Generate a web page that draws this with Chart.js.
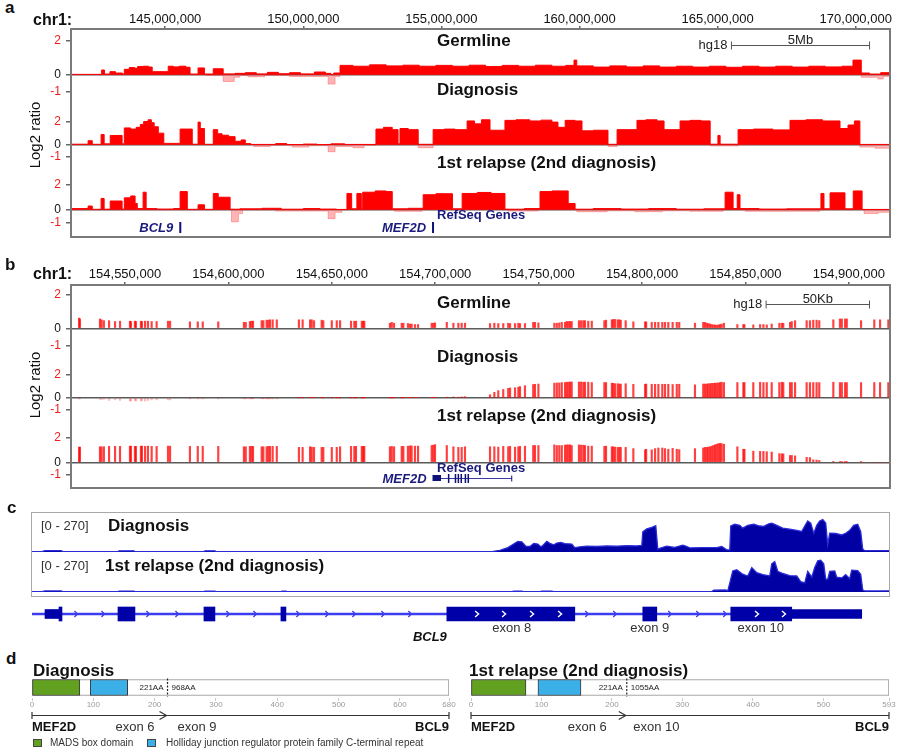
<!DOCTYPE html>
<html>
<head>
<meta charset="utf-8">
<title>MEF2D-BCL9 copy number and fusion</title>
<script src="https://cdn.jsdelivr.net/npm/chart.js@4.4.1/dist/chart.umd.min.js"></script>
<style>
  html, body { margin: 0; background: #fff; }
  #fig { position: relative; width: 900px; height: 750px; overflow: hidden; font-family: "Liberation Sans", Arial, Helvetica, sans-serif; color: #111; }
  .cv { position: absolute; }
  .t { position: absolute; white-space: nowrap; line-height: 1; }
  .box { position: absolute; box-sizing: border-box; pointer-events: none; }
  .sw { position: absolute; width: 9px; height: 8px; box-sizing: border-box; border: 1px solid #444; }
</style>
</head>
<body>
<div id="fig"></div>
<script>
const FONT = '"Liberation Sans", Arial, Helvetica, sans-serif';
Chart.defaults.font.family = FONT;
Chart.defaults.color = '#111';

const RED = '#ff0000';
const PALE = 'rgba(255, 60, 60, 0.38)';
const PROBE = 'rgba(255, 0, 0, 0.75)';
const NAVY = '#1a1a7c';
const COVER = '#0000a3';

// ── Panel a: chr1 overview, log2 segments [start Mb, level] ─────────────────
const aRange = [141.59, 171.24];
const aTicks = [145, 150, 155, 160, 165, 170];
const log2Ticks = [-1, 0, 2];

const aGermline = [[141.59,0.02],[142.70,0.28],[142.80,0.04],[143.00,0.18],[143.20,0.10],[143.45,0.04],[143.52,0.32],[143.70,0.42],[143.90,0.38],[144.00,0.48],[144.20,0.50],[144.40,0.45],[144.53,0.18],[145.11,0.50],[145.30,0.46],[145.50,0.50],[145.75,0.44],[145.90,0.04],[146.19,0.40],[146.42,0.04],[146.74,0.35],[147.10,0.05],[147.53,0.08],[147.90,0.12],[148.30,0.05],[148.70,0.14],[149.10,0.06],[149.50,0.12],[149.90,0.05],[150.40,0.16],[150.80,0.08],[151.00,0.00],[151.10,0.10],[151.33,0.55],[151.80,0.50],[152.40,0.58],[153.00,0.52],[153.60,0.56],[154.20,0.50],[154.80,0.55],[155.40,0.50],[156.00,0.56],[156.60,0.48],[157.20,0.55],[157.80,0.50],[158.40,0.56],[159.00,0.50],[159.50,0.55],[159.80,0.86],[159.90,0.52],[160.50,0.45],[161.10,0.52],[161.70,0.46],[162.30,0.52],[162.90,0.45],[163.50,0.50],[164.10,0.45],[164.70,0.50],[165.30,0.44],[165.90,0.50],[166.50,0.45],[167.10,0.50],[167.70,0.45],[168.30,0.50],[168.90,0.46],[169.50,0.50],[169.90,0.86],[170.20,0.10],[170.50,0.04],[170.90,0.12],[171.24,0.12]];
const aGermlineLow = [[141.59,0],[146.50,-0.05],[147.10,-0.40],[147.50,-0.15],[147.70,-0.05],[148.00,-0.12],[148.60,-0.05],[149.50,-0.10],[150.90,-0.55],[151.15,-0.10],[151.33,0],[170.20,-0.15],[170.80,-0.25],[171.00,-0.10],[171.24,-0.10]];

const aDiagnosis = [[141.59,0.05],[142.21,0.35],[142.36,0.04],[142.68,0.88],[142.79,0.08],[143.01,0.80],[143.44,0.08],[143.52,1.45],[143.75,1.35],[143.95,1.50],[144.10,1.75],[144.22,2.00],[144.38,2.15],[144.50,1.90],[144.60,1.55],[144.75,1.00],[144.95,0.12],[145.54,1.35],[145.98,0.05],[146.19,1.95],[146.27,1.40],[146.42,0.04],[146.74,1.30],[146.90,0.95],[147.06,0.82],[147.30,0.70],[147.53,0.30],[147.75,0.42],[147.90,0.10],[148.10,0.03],[149.00,0.10],[149.40,0.02],[150.00,0.06],[150.50,0.02],[151.00,0.08],[151.50,0.03],[152.63,1.35],[152.90,1.50],[153.22,1.30],[153.43,0.08],[153.50,1.40],[153.80,1.30],[154.16,0.04],[154.70,1.30],[155.10,1.35],[155.50,1.30],[155.93,2.05],[156.20,1.80],[156.45,2.15],[156.76,1.25],[157.30,2.10],[157.70,2.15],[158.20,2.05],[158.60,2.12],[159.00,1.95],[159.22,1.50],[159.48,2.10],[159.84,2.05],[160.09,1.20],[160.50,1.25],[161.03,0.04],[161.36,1.30],[162.08,2.10],[162.40,2.15],[162.81,2.05],[163.06,1.30],[163.64,2.05],[164.00,2.10],[164.40,2.05],[164.73,0.05],[165.01,0.80],[165.09,0.05],[165.74,1.30],[166.30,1.35],[167.00,1.28],[167.62,2.10],[168.20,2.15],[168.80,2.05],[169.43,1.40],[169.72,1.70],[169.95,2.05],[170.15,0.03],[171.24,0.03]];
const aDiagnosisLow = [[141.59,0],[148.20,-0.15],[148.80,-0.05],[149.60,-0.20],[150.20,-0.08],[150.90,-0.60],[151.15,-0.15],[151.80,-0.25],[152.20,-0.05],[152.63,0],[154.16,-0.25],[154.70,0],[161.03,-0.15],[161.36,0],[164.73,-0.10],[165.74,0],[170.15,-0.20],[170.70,-0.30],[171.24,-0.30]];

const aRelapse = [[141.59,0.10],[142.21,0.30],[142.36,0.04],[142.68,0.90],[142.79,0.05],[143.01,0.70],[143.44,0.05],[143.52,0.95],[143.75,1.10],[143.91,0.50],[143.99,0.10],[144.20,1.40],[144.31,0.10],[144.70,0.06],[145.30,0.10],[145.54,1.45],[145.80,0.04],[146.19,0.40],[146.42,0.04],[146.74,1.30],[146.92,1.00],[147.35,0.05],[147.70,0.08],[148.50,0.12],[149.20,0.05],[150.00,0.10],[150.60,0.06],[151.20,0.03],[151.58,1.30],[151.75,0.08],[151.94,1.30],[152.10,0.08],[152.15,1.40],[152.60,1.50],[153.00,1.45],[153.22,0.08],[153.80,0.12],[154.34,1.20],[154.80,1.28],[155.40,0.08],[155.75,1.30],[156.30,1.38],[156.80,1.30],[157.30,0.05],[158.00,0.10],[158.57,1.45],[159.00,1.50],[159.59,0.50],[159.84,0.05],[160.50,0.10],[161.50,0.06],[162.50,0.10],[163.50,0.05],[164.50,0.08],[165.27,1.40],[165.56,0.10],[165.71,1.20],[165.81,0.10],[166.50,0.06],[167.50,0.08],[168.74,1.30],[168.85,0.08],[169.07,1.35],[169.61,0.08],[169.91,1.50],[170.23,0.03],[171.24,0.03]];
const aRelapseLow = [[141.59,0],[147.40,-0.95],[147.65,-0.30],[147.80,0],[149.00,-0.10],[150.90,-0.70],[151.15,-0.20],[151.40,0],[153.30,-0.12],[154.30,0],[157.40,-0.10],[158.50,0],[159.90,-0.15],[161.00,-0.08],[162.00,-0.15],[163.00,-0.08],[164.00,-0.12],[165.20,0],[166.00,-0.12],[168.70,0],[170.30,-0.30],[170.80,-0.20],[171.24,-0.20]];

const aGenes = [['BCL9', 145.51, 145.55], ['MEF2D', 154.66, 154.69]];
const aScaleBar = [165.5, 5, '5Mb'];

// ── Panel b: MEF2D zoom, probes in kb ───────────────────────────────────────
const bRange = [154523.9, 154919.9];
const bTicks = [154550, 154600, 154650, 154700, 154750, 154800, 154850, 154900];
const bProbes = [
  154527.8, 154528.2, 154537.9, 154538.7, 154539.8, 154542.3, 154545.2, 154547.6, 154552.4, 154552.9, 154554.8, 154555.3, 154557.7, 154558.2, 154559.7, 154561.1, 154562.9, 154565.3, 154570.8, 154571.8,
  154581.4, 154585.2, 154587.6, 154595.1, 154607.5, 154608.4, 154610.4, 154611.2, 154611.9, 154616.1, 154616.9, 154618.5, 154619.3, 154620.1, 154621.4, 154623.4,
  154634.1, 154635.9, 154639.5, 154640.3, 154641.4, 154645.1, 154645.9, 154650.0, 154652.4, 154654.0, 154659.3, 154660.9, 154661.7, 154664.5, 154665.2, 154665.7,
  154678.1, 154679.0, 154680.1, 154683.8, 154684.6, 154686.8, 154687.8, 154688.6, 154690.2, 154691.7, 154698.3, 154699.1, 154699.9, 154705.6, 154708.8, 154711.2, 154712.8, 154714.4,
  154726.5, 154728.6, 154730.5, 154732.9, 154735.3, 154736.2, 154738.6, 154740.2, 154741.0, 154743.4, 154747.4, 154748.2, 154749.9,
  154757.6, 154758.8, 154760.0, 154761.2, 154762.8, 154763.6, 154764.4, 154765.2, 154766.0, 154769.5, 154770.5, 154771.6, 154772.4, 154774.0, 154775.7,
  154781.8, 154782.6, 154785.4, 154786.1, 154786.9, 154788.2, 154789.0, 154789.7, 154792.1, 154795.8,
  154801.5, 154802.0, 154804.7, 154806.3, 154807.9, 154809.8, 154811.1, 154812.7, 154814.8, 154816.8, 154818.0,
  154825.6, 154829.6, 154830.4, 154831.3, 154832.0, 154832.9, 154833.7, 154834.5, 154835.3, 154836.1, 154836.9, 154837.7, 154838.5, 154839.6,
  154846.1, 154849.0, 154849.5, 154853.8, 154857.1, 154858.7, 154860.3, 154862.7, 154866.4, 154867.6, 154868.3, 154871.6, 154872.4, 154874.0,
  154879.6, 154881.2, 154882.8, 154884.4, 154885.7, 154892.5, 154895.7, 154896.6, 154898.2, 154899.0, 154905.9, 154912.3, 154915.1, 154919.1
];
const bGermline = [
  0.60, 0.55, 0.55, 0.50, 0.45, 0.45, 0.40, 0.42, 0.42, 0.40, 0.42, 0.40, 0.42, 0.40, 0.42, 0.42, 0.40, 0.40, 0.42, 0.42,
  0.38, 0.38, 0.38, 0.38, 0.35, 0.35, 0.40, 0.42, 0.42, 0.45, 0.45, 0.48, 0.48, 0.50, 0.50, 0.50,
  0.50, 0.50, 0.50, 0.50, 0.45, 0.48, 0.45, 0.45, 0.45, 0.45, 0.42, 0.42, 0.42, 0.42, 0.42, 0.42,
  0.30, 0.35, 0.30, 0.30, 0.30, 0.28, 0.25, 0.25, 0.22, 0.22, 0.30, 0.30, 0.32, 0.35, 0.30, 0.30, 0.30, 0.30,
  0.28, 0.30, 0.28, 0.28, 0.30, 0.28, 0.28, 0.30, 0.28, 0.28, 0.35, 0.35, 0.32,
  0.30, 0.30, 0.32, 0.35, 0.35, 0.40, 0.40, 0.40, 0.40, 0.45, 0.45, 0.45, 0.45, 0.42, 0.42,
  0.45, 0.48, 0.50, 0.52, 0.52, 0.50, 0.50, 0.48, 0.45, 0.38,
  0.38, 0.38, 0.35, 0.35, 0.35, 0.35, 0.35, 0.35, 0.35, 0.35, 0.35,
  0.30, 0.35, 0.35, 0.30, 0.28, 0.25, 0.22, 0.20, 0.20, 0.18, 0.20, 0.22, 0.25, 0.30,
  0.22, 0.22, 0.22, 0.20, 0.22, 0.22, 0.20, 0.25, 0.30, 0.30, 0.30, 0.35, 0.40, 0.45,
  0.45, 0.45, 0.48, 0.48, 0.45, 0.50, 0.55, 0.55, 0.55, 0.55, 0.45, 0.50, 0.50, 0.50
];
const bDiagnosis = [
  -0.05, -0.05, -0.10, -0.12, -0.10, -0.20, -0.15, -0.20, -0.25, -0.25, -0.20, -0.25, -0.25, -0.20, -0.25, -0.20, -0.15, -0.15, -0.15, -0.15,
  -0.02, -0.03, -0.02, -0.03, -0.02, -0.02, -0.03, -0.02, -0.02, -0.03, -0.02, -0.02, -0.02, -0.02, -0.02, -0.02,
  0.02, 0.02, 0.04, 0.04, 0.04, 0.03, 0.02, 0.02, 0.02, 0.02, 0.02, 0.02, 0.02, 0.02, 0.02, 0.02,
  0.02, 0.02, 0.02, 0.02, 0.02, 0.05, 0.05, 0.05, 0.05, 0.05, 0.05, 0.05, 0.05, 0.08, 0.10, 0.08, 0.10, 0.12,
  0.29, 0.50, 0.65, 0.75, 0.85, 0.88, 0.90, 0.95, 1.00, 1.08, 1.18, 1.20, 1.22,
  1.30, 1.32, 1.32, 1.35, 1.35, 1.38, 1.38, 1.40, 1.40, 1.40, 1.40, 1.38, 1.38, 1.38, 1.35,
  1.35, 1.35, 1.30, 1.28, 1.25, 1.25, 1.22, 1.22, 1.25, 1.20,
  1.20, 1.22, 1.20, 1.20, 1.20, 1.20, 1.20, 1.20, 1.18, 1.20, 1.20,
  1.15, 1.22, 1.22, 1.22, 1.25, 1.25, 1.28, 1.28, 1.30, 1.30, 1.32, 1.35, 1.38, 1.35,
  1.35, 1.35, 1.35, 1.35, 1.38, 1.35, 1.35, 1.35, 1.35, 1.38, 1.35, 1.35, 1.35, 1.35,
  1.35, 1.35, 1.35, 1.35, 1.35, 1.38, 1.35, 1.35, 1.35, 1.35, 1.35, 1.35, 1.35, 1.35
];
const bRelapse = [
  1.22, 1.22, 1.25, 1.25, 1.25, 1.28, 1.28, 1.28, 1.30, 1.30, 1.28, 1.28, 1.30, 1.30, 1.28, 1.30, 1.28, 1.28, 1.30, 1.30,
  1.28, 1.28, 1.28, 1.28, 1.25, 1.25, 1.28, 1.28, 1.28, 1.25, 1.25, 1.25, 1.28, 1.28, 1.28, 1.28,
  1.20, 1.20, 1.25, 1.22, 1.20, 1.20, 1.20, 1.20, 1.20, 1.25, 1.28, 1.28, 1.28, 1.28, 1.28, 1.28,
  1.25, 1.28, 1.25, 1.28, 1.28, 1.30, 1.32, 1.32, 1.30, 1.30, 1.35, 1.38, 1.42, 1.35, 1.25, 1.20, 1.20, 1.25,
  1.25, 1.25, 1.22, 1.28, 1.25, 1.28, 1.22, 1.25, 1.28, 1.30, 1.35, 1.35, 1.35,
  1.40, 1.35, 1.35, 1.35, 1.38, 1.40, 1.40, 1.40, 1.35, 1.40, 1.38, 1.38, 1.35, 1.30, 1.30,
  1.28, 1.30, 1.25, 1.25, 1.22, 1.20, 1.20, 1.20, 1.20, 1.10,
  1.00, 1.05, 1.00, 1.10, 1.15, 1.15, 1.10, 1.05, 1.12, 1.05, 1.02,
  1.10, 1.15, 1.20, 1.20, 1.22, 1.25, 1.30, 1.35, 1.40, 1.45, 1.50, 1.52, 1.50, 1.45,
  1.25, 1.05, 1.05, 0.90, 0.88, 0.88, 0.85, 0.82, 0.70, 0.68, 0.68, 0.55, 0.55, 0.52,
  0.40, 0.38, 0.20, 0.18, 0.15, 0.08, 0.03, 0.02, 0.02, 0.02, 0.01, 0.00, 0.00, 0.00
];
const bMef2dUtr = [154698.7, 154702.8];
const bMef2dSpan = [154702.8, 154737.0];
const bMef2dExons = [154706.5, 154709.8, 154711.2, 154712.6, 154714.6, 154716.0];
const bScaleBar = [154860, 50, '50Kb'];

// ── Panel c: BCL9 RNA-seq coverage [kb, reads] and gene model ───────────────
const cRange = [0, 85.73];
const cDiagnosis = [[0,3],[1.0,3],[1.3,10],[2.9,10],[3.1,3],[8.6,3],[8.7,8],[10.2,8],[10.3,3],[17.2,3],[17.3,8],[18.3,8],[18.4,3],[46.0,3],[46.8,12],[47.6,30],[48.1,52],[48.6,74],[49.0,70],[49.4,40],[49.8,38],[50.2,60],[50.6,55],[50.9,36],[51.1,45],[51.5,74],[51.8,60],[52.2,50],[52.5,62],[52.9,67],[53.3,58],[54.0,55],[54.3,30],[54.8,36],[55.5,40],[56.5,38],[57.5,42],[58.5,40],[59.5,44],[60.5,42],[61.0,45],[61.1,140],[61.5,160],[62.0,170],[62.4,182],[62.6,20],[63.0,30],[63.5,40],[64.3,32],[65.1,48],[65.4,40],[65.8,28],[67.0,30],[68.5,30],[69.0,38],[69.5,15],[69.8,14],[69.9,180],[70.3,192],[70.8,185],[71.1,165],[71.6,185],[72.2,192],[72.8,180],[73.2,178],[73.7,195],[74.0,200],[74.4,188],[75.1,165],[75.8,158],[76.5,150],[77.0,142],[77.3,180],[77.6,215],[77.9,200],[78.2,130],[78.5,185],[78.8,215],[79.1,224],[79.4,200],[79.6,50],[79.8,131],[80.4,128],[81.0,118],[81.4,130],[81.8,150],[82.2,185],[82.6,192],[82.9,140],[83.1,20],[83.3,9],[85.0,9],[85.73,10]];
const cRelapse = [[0,3],[1.0,3],[1.3,7],[2.9,7],[3.1,3],[8.6,3],[8.7,6],[10.2,6],[10.3,3],[17.2,3],[17.3,5],[18.3,5],[18.4,3],[24.9,3],[25.0,5],[25.4,5],[25.5,3],[48.0,3],[48.2,5],[49.0,5],[49.2,3],[50.8,3],[51.0,5],[52.0,5],[52.2,3],[68.0,3],[68.2,12],[69.4,14],[69.6,8],[69.8,60],[70.1,142],[70.5,150],[71.1,120],[71.6,108],[72.0,165],[72.5,130],[73.1,118],[73.8,108],[74.0,190],[74.3,205],[74.6,140],[75.1,125],[75.8,110],[76.5,108],[76.9,70],[77.3,62],[77.6,140],[78.0,100],[78.3,165],[78.6,210],[78.9,215],[79.2,190],[79.4,88],[79.6,85],[79.8,140],[80.3,142],[80.5,100],[81.0,95],[81.4,118],[81.8,90],[82.0,148],[82.6,145],[82.9,120],[83.1,15],[83.3,7],[85.0,7],[85.73,8]];
const cExons = [[2.7,3.0],[8.6,10.3],[17.2,18.3],[24.9,25.4],[41.5,54.3],[61.1,62.5],[69.9,76.0]];
const cUtr = [[1.3,2.7],[76.0,83.0]];
const cIntron = [0, 83.0];
const cIntronArrows = [4.4, 7.1, 11.6, 14.5, 19.6, 22.3, 26.6, 29.5, 32.2, 35.1, 37.8, 55.5, 58.3, 63.8, 66.6, 69.3];
const cExonArrows = [44.5, 47.2, 50.0, 52.8, 72.5, 75.2];
const cExonLabels = [['exon 8', 48.0], ['exon 9', 61.8], ['exon 10', 72.9]];

// ── Panel d: fusion proteins (amino acids) ──────────────────────────────────
const dTitles = ['Diagnosis', '1st relapse (2nd diagnosis)'];
const dLength = [680, 593];
const dAxisTicks = [[0, 100, 200, 300, 400, 500, 600, 680], [0, 100, 200, 300, 400, 500, 593]];
const dMads = [0, 78];
const dHolliday = [95, 156];
const dBreakAA = 221;
const dTotalAA = ['968AA', '1055AA'];
const dPartnerExon = ['exon 9', 'exon 10'];
const dExonLabelAA = [[168, 269], [165, 263]];

// ── Helpers ─────────────────────────────────────────────────────────────────
const fig = document.getElementById('fig');
const YW = 40;

function withCommas(n) {
  return String(Math.round(n)).replace(/\B(?=(\d{3})+(?!\d))/g, ',');
}

function addChart(area, cfg, pad, axes) {
  const ax = Object.assign({left: 0, top: 0, bottom: 0}, axes);
  const p = Object.assign({left: 0, right: 10, top: 14, bottom: 14}, pad);
  const L = area.l - ax.left - p.left, T = area.t - ax.top - p.top;
  const div = document.createElement('div');
  div.className = 'cv';
  div.style.left = L + 'px';
  div.style.top = T + 'px';
  div.style.width = (area.r + p.right - L) + 'px';
  div.style.height = (area.b + ax.bottom + p.bottom - T) + 'px';
  const canvas = document.createElement('canvas');
  div.appendChild(canvas);
  fig.appendChild(div);
  cfg.options = Object.assign({
    responsive: true, maintainAspectRatio: false, animation: false, events: [],
    layout: {padding: p}
  }, cfg.options);
  cfg.options.plugins = Object.assign({legend: {display: false}, tooltip: {enabled: false}}, cfg.options.plugins);
  return new Chart(canvas, cfg);
}

function label(text, x, cy, css, align) {
  const d = document.createElement('div');
  d.className = 't';
  d.textContent = text;
  d.style.cssText = css || '';
  d.style.left = x + 'px';
  d.style.top = cy + 'px';
  d.style.transform = align === 'right' ? 'translate(-100%,-50%)' : align === 'center' ? 'translate(-50%,-50%)' : 'translateY(-50%)';
  fig.appendChild(d);
  return d;
}

function frame(l, t, r, b, css) {
  const d = document.createElement('div');
  d.className = 'box';
  d.style.cssText = css;
  d.style.left = (l - 1) + 'px';
  d.style.top = (t - 1) + 'px';
  d.style.width = (r - l + 2) + 'px';
  d.style.height = (b - t + 2) + 'px';
  fig.appendChild(d);
}

function log2Y(min, max) {
  return {
    min, max,
    afterBuildTicks: s => { s.ticks = log2Ticks.map(v => ({value: v})); },
    afterFit: s => { s.width = YW; },
    ticks: {font: {size: 12}, padding: 5, color: c => c.tick.value === 0 ? '#111' : '#ee1c1c'},
    grid: {color: c => (c.tick && c.tick.value === 0) ? '#5a5a5a' : 'rgba(0,0,0,0)', tickColor: '#666', tickLength: 5, lineWidth: 1.5},
    border: {display: false}
  };
}

function genomeX(range, ticks, fmt, show, pad) {
  return {
    type: 'linear', position: 'top', min: range[0], max: range[1], offset: false, display: show,
    afterBuildTicks: s => { s.ticks = ticks.map(v => ({value: v})); },
    afterFit: s => { s.height = 20; },
    ticks: {callback: fmt, font: {size: 13, lineHeight: 1}, color: '#111', padding: pad, maxRotation: 0, autoSkip: false},
    grid: {offset: false, drawOnChartArea: false, tickLength: 3, tickColor: '#666', lineWidth: 1.5},
    border: {display: false}
  };
}

function stepSet(segs, color) {
  return {data: segs.map(s => ({x: s[0], y: s[1]})), stepped: true, fill: 'origin',
    backgroundColor: color, borderColor: color, borderWidth: 1, pointRadius: 0};
}

function probeSet(vals) {
  return {data: bProbes.map((x, i) => ({x, y: vals[i]})), barThickness: 1.5,
    backgroundColor: c => (c.raw && c.raw.y < 0) ? 'rgba(255,0,0,0.28)' : PROBE};
}

function scaleBarPlugin(bar, dy) {
  return {id: 'scalebar', afterDraw(chart) {
    const {ctx, chartArea: a, scales: {x}} = chart;
    const x0 = x.getPixelForValue(bar[0]), x1 = x.getPixelForValue(bar[0] + bar[1]);
    const y = Math.round(a.top + dy) + 0.5;
    ctx.save();
    ctx.strokeStyle = '#555'; ctx.lineWidth = 1;
    ctx.beginPath();
    ctx.moveTo(x0, y); ctx.lineTo(x1, y);
    ctx.moveTo(x0, y - 4); ctx.lineTo(x0, y + 4);
    ctx.moveTo(x1, y - 4); ctx.lineTo(x1, y + 4);
    ctx.stroke();
    ctx.fillStyle = '#222'; ctx.font = '13px ' + FONT;
    ctx.textAlign = 'right'; ctx.textBaseline = 'middle';
    ctx.fillText('hg18', x0 - 4, y);
    ctx.textAlign = 'center'; ctx.textBaseline = 'alphabetic';
    ctx.fillText(bar[2], (x0 + x1) / 2, y - 1.5);
    ctx.restore();
  }};
}

function geneMarkPlugin(genes) {
  return {id: 'refseq', afterDatasetsDraw(chart) {
    const {ctx, chartArea: a, scales: {x}} = chart;
    const y = a.bottom - 9.5;
    ctx.save();
    ctx.font = 'italic bold 13px ' + FONT;
    ctx.textAlign = 'right'; ctx.textBaseline = 'middle';
    genes.forEach(([name, s, e]) => {
      const x0 = x.getPixelForValue(s), w = Math.max(2, x.getPixelForValue(e) - x0);
      ctx.fillStyle = '#10107a';
      ctx.fillRect(x0, y - 5.5, w, 11);
      ctx.fillStyle = NAVY;
      ctx.fillText(name, x0 - 6, y + 0.5);
    });
    ctx.restore();
  }};
}

function mef2dPlugin() {
  return {id: 'mef2d', afterDatasetsDraw(chart) {
    const {ctx, chartArea: a, scales: {x}} = chart;
    const px = v => x.getPixelForValue(v);
    const y = a.bottom - 10;
    ctx.save();
    ctx.fillStyle = '#10107a'; ctx.strokeStyle = '#3a3aa0'; ctx.lineWidth = 1;
    ctx.fillRect(px(bMef2dUtr[0]), y - 3, px(bMef2dUtr[1]) - px(bMef2dUtr[0]), 6);
    ctx.beginPath(); ctx.moveTo(px(bMef2dSpan[0]), y + 0.5); ctx.lineTo(px(bMef2dSpan[1]), y + 0.5); ctx.stroke();
    bMef2dExons.forEach(v => ctx.fillRect(px(v) - 0.75, y - 4, 1.5, 9));
    ctx.fillRect(px(bMef2dSpan[1]) - 0.5, y - 2.5, 1, 6);
    ctx.font = 'italic bold 13px ' + FONT; ctx.textAlign = 'right'; ctx.textBaseline = 'middle';
    ctx.fillStyle = NAVY;
    ctx.fillText('MEF2D', px(bMef2dUtr[0]) - 6, y + 1);
    ctx.restore();
  }};
}

function chevron(ctx, x, y, w, h) {
  ctx.beginPath();
  ctx.moveTo(x - w / 2, y - h / 2); ctx.lineTo(x + w / 2, y); ctx.lineTo(x - w / 2, y + h / 2);
  ctx.stroke();
}

function bcl9Plugin() {
  return {id: 'bcl9', afterDatasetsDraw(chart) {
    const {ctx, chartArea: a, scales: {x}} = chart;
    const px = v => x.getPixelForValue(v);
    const y = (a.top + a.bottom) / 2;
    ctx.save();
    ctx.lineWidth = 1.3; ctx.strokeStyle = '#3c3cf0';
    cIntronArrows.forEach(v => chevron(ctx, px(v), y, 3, 6));
    ctx.strokeStyle = '#fff'; ctx.lineWidth = 1.4;
    cExonArrows.forEach(v => chevron(ctx, px(v), y, 3.5, 6));
    ctx.font = '13px ' + FONT; ctx.fillStyle = '#333'; ctx.textAlign = 'center'; ctx.textBaseline = 'middle';
    cExonLabels.forEach(([t, v]) => ctx.fillText(t, px(v), a.bottom));
    ctx.font = 'italic bold 13px ' + FONT; ctx.fillStyle = '#111'; ctx.textAlign = 'right';
    ctx.fillText('BCL9', px(cExons[4][0]), a.bottom + 9);
    ctx.restore();
  }};
}

function proteinPlugin(k) {
  return {id: 'fusion', afterDatasetsDraw(chart) {
    const {ctx, chartArea: a, scales: {x}} = chart;
    const px = v => x.getPixelForValue(v);
    const xb = px(dBreakAA);
    const ym = (a.top + a.bottom) / 2;
    ctx.save();
    ctx.strokeStyle = '#222'; ctx.lineWidth = 1.2; ctx.setLineDash([2, 1.5]);
    ctx.beginPath(); ctx.moveTo(xb, ym - 9); ctx.lineTo(xb, ym + 9); ctx.stroke();
    ctx.setLineDash([]);
    ctx.fillStyle = '#222'; ctx.font = '8px ' + FONT; ctx.textBaseline = 'middle';
    ctx.textAlign = 'right'; ctx.fillText(dBreakAA + 'AA', xb - 4, ym);
    ctx.textAlign = 'left'; ctx.fillText(dTotalAA[k], xb + 4, ym);
    const ya = a.bottom + 17.5, x0 = px(0), x1 = px(dLength[k]);
    ctx.strokeStyle = '#333'; ctx.lineWidth = 1.2;
    ctx.beginPath();
    ctx.moveTo(x0, ya); ctx.lineTo(x1, ya);
    ctx.moveTo(x0, ya - 3.5); ctx.lineTo(x0, ya + 3.5);
    ctx.moveTo(x1, ya - 3.5); ctx.lineTo(x1, ya + 3.5);
    ctx.moveTo(xb - 8, ya - 4); ctx.lineTo(xb - 1, ya); ctx.lineTo(xb - 8, ya + 4);
    ctx.stroke();
    const yt = a.bottom + 29;
    ctx.fillStyle = '#111'; ctx.font = 'bold 13px ' + FONT;
    ctx.textAlign = 'left'; ctx.fillText('MEF2D', x0, yt);
    ctx.textAlign = 'right'; ctx.fillText('BCL9', x1, yt);
    ctx.font = '13px ' + FONT; ctx.textAlign = 'center'; ctx.fillStyle = '#333';
    ctx.fillText('exon 6', px(dExonLabelAA[k][0]), yt);
    ctx.fillText(dPartnerExon[k], px(dExonLabelAA[k][1]), yt);
    ctx.restore();
  }};
}

// ── Panel a ─────────────────────────────────────────────────────────────────
const aTracks = [
  {t: 29, b: 97, y: [-1.31, 2.69], hi: aGermline, lo: aGermlineLow},
  {t: 97, b: 160, y: [-1.31, 2.39], hi: aDiagnosis, lo: aDiagnosisLow},
  {t: 160, b: 237, y: [-2.16, 2.37], hi: aRelapse, lo: aRelapseLow}
];
aTracks.forEach((tr, i) => {
  const plugins = [];
  if (i === 0) plugins.push(scaleBarPlugin(aScaleBar, 16));
  if (i === 2) plugins.push(geneMarkPlugin(aGenes));
  addChart({l: 71, r: 890, t: tr.t, b: tr.b}, {
    type: 'line',
    data: {datasets: [stepSet(tr.hi, RED), stepSet(tr.lo, PALE)]},
    options: {scales: {
      x: genomeX(aRange, aTicks, v => withCommas(v * 1e6), i === 0, 0),
      y: log2Y(tr.y[0], tr.y[1])
    }},
    plugins
  }, i === 0 ? {top: 4} : {}, {left: YW, top: i === 0 ? 20 : 0});
});

// ── Panel b ─────────────────────────────────────────────────────────────────
const bTracks = [
  {t: 285, b: 351, y: [-1.335, 2.547], v: bGermline},
  {t: 351, b: 413, y: [-1.294, 2.353], v: bDiagnosis},
  {t: 413, b: 488, y: [-2.059, 2.353], v: bRelapse}
];
bTracks.forEach((tr, i) => {
  const plugins = [];
  if (i === 0) plugins.push(scaleBarPlugin(bScaleBar, 19));
  if (i === 2) plugins.push(mef2dPlugin());
  addChart({l: 71, r: 890, t: tr.t, b: tr.b}, {
    type: 'bar',
    data: {datasets: [probeSet(tr.v)]},
    options: {scales: {
      x: genomeX(bRange, bTicks, v => withCommas(v * 1000), i === 0, 1),
      y: log2Y(tr.y[0], tr.y[1])
    }},
    plugins
  }, i === 0 ? {top: 4} : {}, {left: YW, top: i === 0 ? 20 : 0});
});

// ── Panel c ─────────────────────────────────────────────────────────────────
[[cDiagnosis, 513, 552], [cRelapse, 552, 592]].forEach(([pts, t, b]) => {
  addChart({l: 32, r: 889, t, b}, {
    type: 'line',
    data: {datasets: [{data: pts.map(p => ({x: p[0], y: p[1]})), fill: 'origin', backgroundColor: COVER,
      borderColor: '#2b2bd8', borderWidth: 1.3, pointRadius: 0, tension: 0}]},
    options: {scales: {
      x: {type: 'linear', min: cRange[0], max: cRange[1], display: false},
      y: {min: 0, max: 270, display: false}
    }}
  }, {left: 0, right: 0, top: 2, bottom: 2});
});

addChart({l: 32, r: 889, t: 600, b: 628}, {
  type: 'bar',
  data: {datasets: [
    {data: cExons.map(e => ({x: e, y: 0})), barThickness: 14, backgroundColor: '#0000a8'},
    {data: cUtr.map(e => ({x: e, y: 0})), barThickness: 9, backgroundColor: '#0000a8'},
    {data: [{x: cIntron, y: 0}], barThickness: 1.6, backgroundColor: '#3c3cf0'}
  ]},
  options: {
    indexAxis: 'y',
    datasets: {bar: {grouped: false, borderSkipped: false}},
    scales: {
      x: {type: 'linear', min: cRange[0], max: cRange[1], display: false},
      y: {type: 'linear', min: -1, max: 1, display: false, offset: false}
    }
  },
  plugins: [bcl9Plugin()]
}, {left: 0, right: 0, top: 4, bottom: 18});

// ── Panel d ─────────────────────────────────────────────────────────────────
[{l: 32, r: 449}, {l: 471, r: 889}].forEach((ar, k) => {
  addChart({l: ar.l, r: ar.r, t: 677, b: 698}, {
    type: 'bar',
    data: {datasets: [
      {data: [{x: dMads, y: 0}], backgroundColor: '#62a01f', borderColor: '#3a3a3a', borderWidth: 1},
      {data: [{x: dHolliday, y: 0}], backgroundColor: '#3bb0e8', borderColor: '#3a3a3a', borderWidth: 1},
      {data: [{x: [0, dLength[k]], y: 0}], backgroundColor: '#ffffff', borderColor: '#8c8c8c', borderWidth: 1}
    ]},
    options: {
      indexAxis: 'y',
      datasets: {bar: {grouped: false, borderSkipped: false, barThickness: 16}},
      scales: {
        x: {type: 'linear', position: 'bottom', min: 0, max: dLength[k],
          afterBuildTicks: s => { s.ticks = dAxisTicks[k].map(v => ({value: v})); },
          afterFit: s => { s.height = 12; },
          ticks: {font: {size: 8, lineHeight: 1}, color: '#9a9a9a', padding: 0, maxRotation: 0, autoSkip: false},
          grid: {drawOnChartArea: false, tickLength: 3, tickColor: '#c8c8c8'},
          border: {display: false}},
        y: {type: 'linear', min: -1, max: 1, display: false, offset: false}
      }
    },
    plugins: [proteinPlugin(k)]
  }, {left: 4, right: 10, top: 6, bottom: 28}, {bottom: 12});
});

// ── Frames and text ─────────────────────────────────────────────────────────
frame(71, 29, 890, 237, 'border:2px solid #7a7a7a;');
frame(71, 285, 890, 488, 'border:2px solid #7a7a7a;');
frame(32, 513, 889, 596, 'border:1.5px solid #a8a8a8;');

const B17 = 'font-weight:bold;font-size:17px;';
label('a', 5, 7, 'font-weight:bold;font-size:17px;');
label('b', 5, 264, 'font-weight:bold;font-size:17px;');
label('c', 7, 507, 'font-weight:bold;font-size:17px;');
label('d', 6, 658, 'font-weight:bold;font-size:17px;');

label('chr1:', 33, 20, 'font-weight:bold;font-size:16px;');
label('chr1:', 33, 274, 'font-weight:bold;font-size:16px;');

label('Germline', 437, 40, B17);
label('Diagnosis', 437, 89, B17);
label('1st relapse (2nd diagnosis)', 437, 162, B17);
label('RefSeq Genes', 437, 214, 'font-weight:bold;font-size:13px;color:' + NAVY + ';');

label('Germline', 437, 302, B17);
label('Diagnosis', 437, 356, B17);
label('1st relapse (2nd diagnosis)', 437, 415, B17);
label('RefSeq Genes', 437, 467, 'font-weight:bold;font-size:13px;color:' + NAVY + ';');

[135, 385].forEach(cy => {
  const d = label('Log2 ratio', 34, cy, 'font-size:15px;');
  d.style.transform = 'translate(-50%,-50%) rotate(-90deg)';
});

label('[0 - 270]', 41, 525, 'font-size:13px;color:#333;');
label(dTitles[0], 108, 525, B17);
label('[0 - 270]', 41, 565, 'font-size:13px;color:#333;');
label(dTitles[1], 105, 565, B17);

label(dTitles[0], 33, 670, B17);
label(dTitles[1], 469, 670, B17);

const sw1 = document.createElement('div');
sw1.className = 'sw'; sw1.style.left = '33px'; sw1.style.top = '739px'; sw1.style.background = '#62a01f';
fig.appendChild(sw1);
label('MADS box domain', 50, 743, 'font-size:10px;color:#333;');
const sw2 = document.createElement('div');
sw2.className = 'sw'; sw2.style.left = '147px'; sw2.style.top = '739px'; sw2.style.background = '#3bb0e8';
fig.appendChild(sw2);
label('Holliday junction regulator protein family C-terminal repeat', 166, 743, 'font-size:10px;color:#333;');
</script>
</body>
</html>
